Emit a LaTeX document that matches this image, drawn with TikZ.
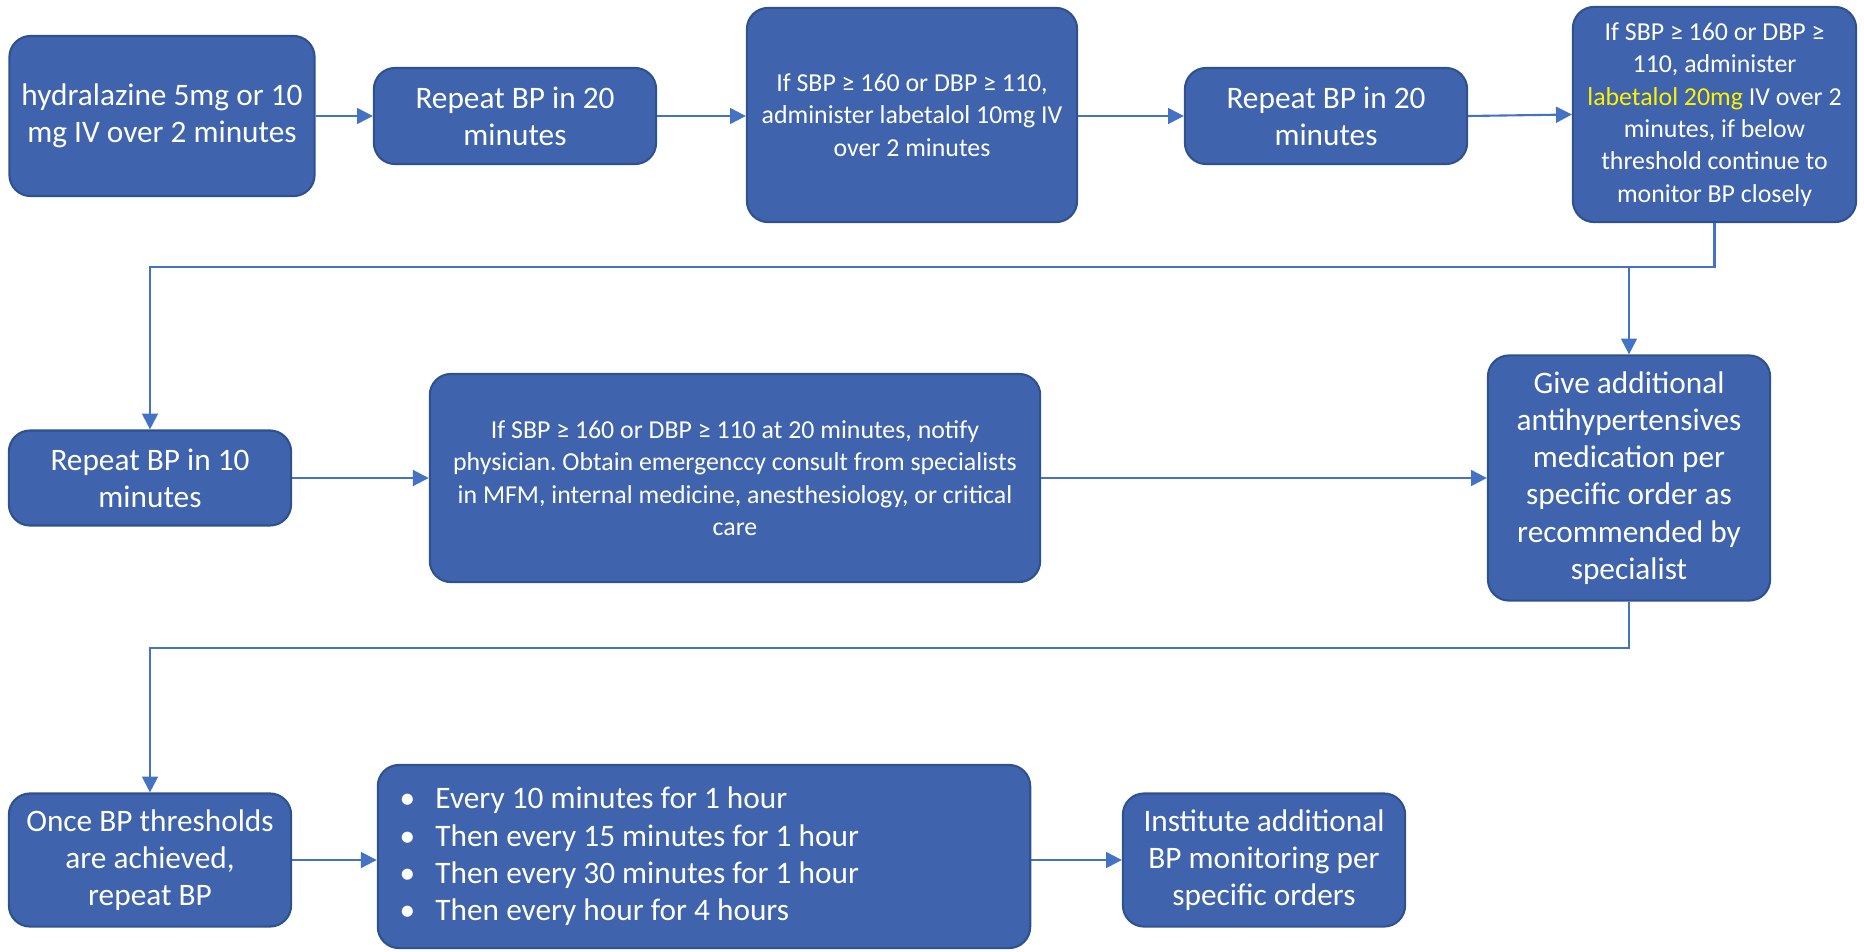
\documentclass[tikz,border=0pt]{standalone}
\usepackage{fontspec}
\setmainfont{Carlito}
\usetikzlibrary{arrows.meta}
\frenchspacing
\definecolor{boxblue}{HTML}{3F63AD}
\definecolor{boxline}{HTML}{2F528F}
\definecolor{flowblue}{HTML}{4472C4}
\tikzset{
  stepbox/.style={draw=boxline, fill=boxblue, rounded corners=6pt, text=white,
    align=center, inner sep=2pt, line width=0.6pt},
  bigtext/.style={font=\fontsize{8.9}{10.6}\selectfont},
  smalltext/.style={font=\fontsize{7.35}{9.2}\selectfont},
  flow/.style={draw=flowblue, line width=0.6pt, -{Triangle[length=4.5pt,width=4.5pt]}},
}
\begin{document}
\begin{tikzpicture}[x=0.01cm, y=-0.01cm]
            % the frame
            \useasboundingbox (0,0) rectangle (1864,951);

            % the first row
            \node[stepbox, bigtext, minimum width=3.05cm, minimum height=1.6cm] (b1) at (162,116)
                {hydralazine 5mg or 10\\mg IV over 2 minutes};
            \node[stepbox, bigtext, minimum width=2.82cm, minimum height=0.96cm] (b2) at (515,116)
                {Repeat BP in 20\\minutes};
            \node[stepbox, smalltext, minimum width=3.3cm, minimum height=2.14cm] (b3) at (912,115)
                {If SBP ≥ 160 or DBP ≥ 110,\\administer labetalol 10mg IV\\over 2 minutes};
            \node[stepbox, bigtext, minimum width=2.82cm, minimum height=0.96cm] (b4) at (1326,116)
                {Repeat BP in 20\\minutes};
            \node[stepbox, smalltext, minimum width=2.83cm, minimum height=2.15cm] (b5) at (1714.5,114.5)
                {If SBP ≥ 160 or DBP ≥\\110, administer\\{\color{yellow}labetalol 20mg} IV over 2\\minutes, if below\\threshold continue to\\monitor BP closely};

            % the second row
            \node[stepbox, bigtext, minimum width=2.82cm, minimum height=0.95cm] (b6) at (150,478)
                {Repeat BP in 10\\minutes};
            \node[stepbox, smalltext, minimum width=6.1cm, minimum height=2.08cm] (b7) at (735,478)
                {If SBP ≥ 160 or DBP ≥ 110 at 20 minutes, notify\\physician. Obtain emergenccy consult from specialists\\in MFM, internal medicine, anesthesiology, or critical\\care};
            \node[stepbox, bigtext, minimum width=2.82cm, minimum height=2.45cm] (b8) at (1629,478)
                {Give additional\\antihypertensives\\medication per\\specific order as\\recommended by\\specialist};

            % the third row
            \node[stepbox, bigtext, minimum width=2.82cm, minimum height=1.33cm] (b9) at (150,860)
                {Once BP thresholds\\are achieved,\\repeat BP};
            \node[stepbox, bigtext, align=flush left, text width=6.52cm-4pt, minimum height=1.83cm] (b10) at (704,856.5)
                {\hspace*{4.2pt}\makebox[10.2pt][l]{•}Every 10 minutes for 1 hour\\
                 \hspace*{4.2pt}\makebox[10.2pt][l]{•}Then every 15 minutes for 1 hour\\
                 \hspace*{4.2pt}\makebox[10.2pt][l]{•}Then every 30 minutes for 1 hour\\
                 \hspace*{4.2pt}\makebox[10.2pt][l]{•}Then every hour for 4 hours};
            \node[stepbox, bigtext, minimum width=2.82cm, minimum height=1.33cm] (b11) at (1264,860)
                {Institute additional\\BP monitoring per\\specific orders};

            % the connectors
            \coordinate (gap1) at (0,267);
            \coordinate (gap2) at (0,648);
            \draw[flow] (b1.east) -- (b2.west);
            \draw[flow] (b2.east) -- (b3.west |- b2.east);
            \draw[flow] (b3.east |- b4.west) -- (b4.west);
            \draw[flow] (b4.east) -- (b5.west);
            \draw[flow] (b5.south) |- (b6.north |- gap1) -- (b6.north);
            \draw[flow] (b8.north |- gap1) -- (b8.north);
            \draw[flow] (b6.east) -- (b7.west);
            \draw[flow] (b7.east) -- (b8.west);
            \draw[flow] (b8.south) |- (b9.north |- gap2) -- (b9.north);
            \draw[flow] (b9.east) -- (b9.east -| b10.west);
            \draw[flow] (b10.east |- b11.west) -- (b11.west);
        \end{tikzpicture}
\end{document}
